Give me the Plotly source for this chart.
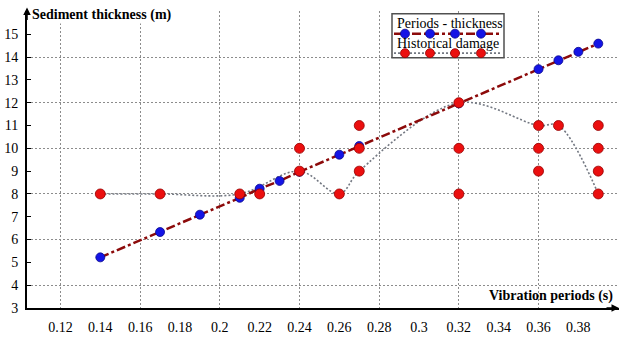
import plotly.graph_objects as go

# ---------------- data ----------------
period_x = [0.14, 0.17, 0.19, 0.21, 0.22, 0.23, 0.24, 0.26, 0.27, 0.32, 0.36, 0.37, 0.38, 0.39]
period_y = [5.22, 6.33, 7.09, 7.83, 8.23, 8.57, 8.97, 9.72, 10.1, 11.97, 13.47, 13.86, 14.23, 14.59]

damage_x = [0.14, 0.17, 0.21, 0.22, 0.24, 0.24, 0.26, 0.27, 0.27, 0.27,
            0.32, 0.32, 0.32, 0.36, 0.36, 0.36, 0.37, 0.39, 0.39, 0.39, 0.39]
damage_y = [8, 8, 8, 8, 9, 10, 8, 9, 10, 11,
            12, 10, 8, 11, 10, 9, 11, 11, 10, 9, 8]

trend_x = [0.14, 0.17, 0.21, 0.24, 0.26, 0.27, 0.32, 0.36, 0.37, 0.39]
trend_y = [8, 8, 8, 9, 8, 9, 12, 11, 11, 8]

x_tickvals = [0.12, 0.14, 0.16, 0.18, 0.20, 0.22, 0.24, 0.26, 0.28, 0.30, 0.32, 0.34, 0.36, 0.38]
x_ticktext = ["0.12", "0.14", "0.16", "0.18", "0.2", "0.22", "0.24", "0.26", "0.28", "0.3",
              "0.32", "0.34", "0.36", "0.38"]
y_tickvals = [3, 4, 5, 6, 7, 8, 9, 10, 11, 12, 13, 14, 15]

legend_labels = ["Periods - thickness", "Historical damage"]
x_title = "Vibration periods (s)"
y_title = "Sediment thickness (m)"

# ---------------- style ----------------
SERIF = "Liberation Serif"
BLUE = "rgb(20,20,230)"
BLUE_EDGE = "rgb(10,10,140)"
RED = "rgb(235,15,15)"
RED_EDGE = "rgb(150,0,0)"
MAROON = "rgb(140,10,10)"
GRAY_LINE = "rgb(115,120,130)"
GRID = "rgb(140,140,140)"

XR = [0.1032, 0.4004]
YR = [3, 16.02]

fig = go.Figure()

fig.add_trace(go.Scatter(
    x=trend_x, y=trend_y, mode="lines",
    line=dict(color=GRAY_LINE, width=1.6, dash="2px,2px", shape="spline", smoothing=1.0),
    showlegend=False, hoverinfo="skip"))

fig.add_trace(go.Scatter(
    x=period_x, y=period_y, mode="lines+markers",
    line=dict(color=MAROON, width=2.5, dash="dashdot"),
    marker=dict(color=BLUE, size=9, line=dict(color=BLUE_EDGE, width=0.8)),
    showlegend=False))

fig.add_trace(go.Scatter(
    x=damage_x, y=damage_y, mode="markers",
    marker=dict(color=RED, size=10, line=dict(color=RED_EDGE, width=0.8)),
    showlegend=False))

# dummy trace for grid overlay axes
fig.add_trace(go.Scatter(x=[None], y=[None], xaxis="x2", yaxis="y2",
                         showlegend=False, hoverinfo="skip"))

fig.update_layout(
    width=624, height=337,
    margin=dict(l=27, r=5, t=11, b=29, autoexpand=False),
    paper_bgcolor="white", plot_bgcolor="white",
    font=dict(family=SERIF, size=14, color="black"),
    xaxis=dict(range=XR, tickvals=x_tickvals, ticktext=x_ticktext, showgrid=False,
               zeroline=False, showline=True, linecolor="black", linewidth=2,
               ticks="", ticklabelstandoff=5, tickfont=dict(family=SERIF, size=14),
               automargin=False),
    yaxis=dict(range=YR, tickvals=y_tickvals, showgrid=False, zeroline=False,
               showline=True, linecolor="black", linewidth=2, ticks="inside",
               ticklen=4, tickcolor="black", ticklabelstandoff=4,
               tickfont=dict(family=SERIF, size=14), automargin=False),
    xaxis2=dict(range=XR, overlaying="x", anchor="y2", showgrid=True, griddash="2px,2px",
                gridcolor=GRID, gridwidth=1, tick0=0.12, dtick=0.04, showticklabels=False,
                zeroline=False, showline=False, ticks=""),
    yaxis2=dict(range=YR, overlaying="y", anchor="x2", showgrid=True, griddash="2px,2px",
                gridcolor=GRID, gridwidth=1, tick0=0, dtick=2, showticklabels=False,
                zeroline=False, showline=False, ticks=""),
    showlegend=False,
)

# axis titles
fig.add_annotation(xref="paper", yref="paper", x=0, y=1, xanchor="left", yanchor="middle",
                   xshift=4, yshift=-4, text="<b>" + y_title + "</b>", showarrow=False,
                   font=dict(family=SERIF, size=14), bgcolor="white", borderpad=0)
fig.add_annotation(xref="paper", yref="paper", x=1, y=0, xanchor="right", yanchor="bottom",
                   xshift=-4, yshift=2, text="<b>" + x_title + "</b>", showarrow=False,
                   font=dict(family=SERIF, size=14))

# axis arrows
fig.add_annotation(xref="paper", yref="paper", x=0, y=1.012, ax=0, ay=14, showarrow=True,
                   arrowhead=2, arrowsize=1, arrowwidth=1.5, arrowcolor="black", text="")
fig.add_annotation(xref="paper", yref="paper", x=1.0, y=0, ax=-14, ay=0, showarrow=True,
                   arrowhead=2, arrowsize=1, arrowwidth=1.5, arrowcolor="black", text="")

# custom legend (box, glyphs, labels) anchored at its top-left corner
LX = (392 - 27) / 592
LY = 0.991
fig.add_shape(type="rect", xref="paper", yref="paper", xsizemode="pixel", ysizemode="pixel",
              xanchor=LX, yanchor=LY, x0=0, x1=112, y0=0, y1=-44,
              line=dict(color="rgb(80,80,80)", width=1.5), fillcolor="white", layer="above")
rows = [(-20, dict(color=MAROON, width=2.5, dash="dashdot"), BLUE, BLUE_EDGE),
        (-39.5, dict(color=GRAY_LINE, width=1.6, dash="2px,2px"), RED, RED_EDGE)]
for i, (yo, ln, fc, ec) in enumerate(rows):
    fig.add_shape(type="line", xref="paper", yref="paper", xsizemode="pixel", ysizemode="pixel",
                  xanchor=LX, yanchor=LY, x0=2, x1=110, y0=yo, y1=yo, line=ln, layer="above")
    for mx in [13, 38, 63, 89]:
        fig.add_shape(type="circle", xref="paper", yref="paper", xsizemode="pixel",
                      ysizemode="pixel", xanchor=LX, yanchor=LY, x0=mx - 4.5, x1=mx + 4.5,
                      y0=yo - 4.5, y1=yo + 4.5, fillcolor=fc, line=dict(color=ec, width=0.8),
                      layer="above")
    fig.add_annotation(xref="paper", yref="paper", x=LX, y=LY, xanchor="left", yanchor="middle",
                       xshift=3, yshift=yo + 10, text=legend_labels[i], showarrow=False,
                       font=dict(family=SERIF, size=14))

fig.write_html("out.html", config={"displayModeBar": False},
               post_script="document.body.style.margin='0';")
